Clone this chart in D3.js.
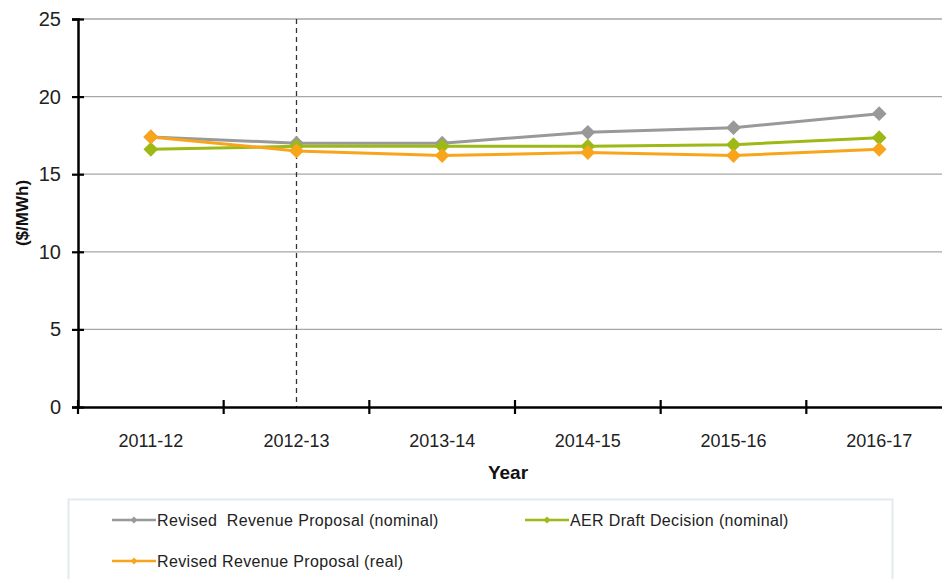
<!DOCTYPE html>
<html>
<head>
<meta charset="utf-8">
<script src="https://cdn.jsdelivr.net/npm/d3@7"></script>
<style>
  html, body { margin: 0; padding: 0; background: #fff; }
  svg { display: block; font-family: "Liberation Sans", Arial, sans-serif; }
</style>
</head>
<body>
<svg id="chart" width="942" height="579"></svg>
<script>
// Network charges per MWh by regulatory year
const years = ["2011-12", "2012-13", "2013-14", "2014-15", "2015-16", "2016-17"];
const revisedNominal = [17.4, 17.0, 17.0, 17.7, 18.0, 18.9];
const aerDraftNominal = [16.6, 16.8, 16.8, 16.8, 16.9, 17.35];
const revisedReal = [17.4, 16.5, 16.2, 16.4, 16.2, 16.6];
const yTicks = [0, 5, 10, 15, 20, 25];
const seriesNames = [
  "Revised  Revenue Proposal (nominal)",
  "AER Draft Decision (nominal)",
  "Revised Revenue Proposal (real)"
];
const seriesColors = ["#999999", "#9cb916", "#f9a51c"];
const dividerYear = "2012-13";

const series = [revisedNominal, aerDraftNominal, revisedReal].map((vals, i) => ({
  name: seriesNames[i],
  color: seriesColors[i],
  values: vals.map((v, j) => ({ year: years[j], value: v }))
}));

const svg = d3.select("#chart");
const plotLeft = 78, plotRight = 952, plotTop = 19, plotBottom = 407;

const x = d3.scaleBand().domain(years).range([plotLeft, plotRight]);
const y = d3.scaleLinear().domain([0, 25]).range([plotBottom, plotTop]);

// horizontal gridlines
svg.append("g")
  .selectAll("line")
  .data(yTicks.filter(t => t > 0))
  .join("line")
  .attr("x1", plotLeft).attr("x2", plotRight)
  .attr("y1", d => y(d)).attr("y2", d => y(d))
  .attr("stroke", "#a6a6a6").attr("stroke-width", 1.3);

// vertical dashed divider
svg.append("line")
  .attr("x1", x(dividerYear) + x.bandwidth() / 2)
  .attr("x2", x(dividerYear) + x.bandwidth() / 2)
  .attr("y1", plotTop).attr("y2", plotBottom)
  .attr("stroke", "#333").attr("stroke-width", 1.3)
  .attr("stroke-dasharray", "5,4");

// y axis
const yAxis = svg.append("g")
  .attr("transform", `translate(${plotLeft},0)`)
  .call(d3.axisLeft(y).tickValues(yTicks).tickSize(6).tickPadding(11));
yAxis.select(".domain").attr("stroke", "#000").attr("stroke-width", 2.5);
yAxis.selectAll(".tick line").clone().attr("x2", 6);
yAxis.selectAll(".tick line").attr("stroke", "#000").attr("stroke-width", 2.2);
yAxis.selectAll(".tick text")
  .attr("font-size", 20).attr("fill", "#222")
  .attr("font-family", "Liberation Sans, Arial, sans-serif");

// x axis
const xAxis = svg.append("g")
  .attr("transform", `translate(0,${plotBottom})`)
  .call(d3.axisBottom(x).tickSize(0).tickPadding(27));
xAxis.select(".domain").attr("stroke", "#000").attr("stroke-width", 2.5);
xAxis.selectAll(".tick text")
  .attr("font-size", 18).attr("fill", "#222")
  .attr("font-family", "Liberation Sans, Arial, sans-serif");
// band boundary ticks
xAxis.append("g")
  .selectAll("line")
  .data(years)
  .join("line")
  .attr("x1", d => x(d)).attr("x2", d => x(d))
  .attr("y1", -7).attr("y2", 7)
  .attr("stroke", "#000").attr("stroke-width", 2.2);

// axis titles
svg.append("text")
  .attr("transform", `translate(28,${(plotTop + plotBottom) / 2}) rotate(-90)`)
  .attr("text-anchor", "middle")
  .attr("font-size", 17).attr("font-weight", "bold").attr("fill", "#111")
  .text("($/MWh)");
svg.append("text")
  .attr("x", 508).attr("y", 479)
  .attr("text-anchor", "middle")
  .attr("font-size", 19).attr("font-weight", "bold").attr("fill", "#111")
  .text("Year");

// series lines and diamond markers
const line = d3.line()
  .x(d => x(d.year) + x.bandwidth() / 2)
  .y(d => y(d.value));
const diamond = d3.symbol().type(d3.symbolDiamond2).size(140);

series.forEach(s => {
  const g = svg.append("g");
  g.append("path")
    .datum(s.values)
    .attr("d", line)
    .attr("fill", "none")
    .attr("stroke", s.color)
    .attr("stroke-width", 3);
  g.selectAll("path.m")
    .data(s.values)
    .join("path")
    .attr("class", "m")
    .attr("d", diamond)
    .attr("transform", d => `translate(${x(d.year) + x.bandwidth() / 2},${y(d.value)})`)
    .attr("fill", s.color);
});

// legend
const legend = svg.append("g");
legend.append("rect")
  .attr("x", 68.5).attr("y", 499.5)
  .attr("width", 824).attr("height", 100)
  .attr("fill", "#fff").attr("stroke", "#e3eaee").attr("stroke-width", 2);

const legendPos = [[112, 520], [525, 520], [112, 561]];
const legendSymbol = d3.symbol().type(d3.symbolDiamond2).size(30);
series.forEach((s, i) => {
  const [lx, ly] = legendPos[i];
  const item = legend.append("g").attr("transform", `translate(${lx},${ly})`);
  item.append("line")
    .attr("x1", 0).attr("x2", 44)
    .attr("stroke", s.color).attr("stroke-width", 2.5);
  item.append("path")
    .attr("d", legendSymbol)
    .attr("transform", "translate(22,0)")
    .attr("fill", s.color);
  item.append("text")
    .attr("x", 45).attr("y", 5.5)
    .attr("font-size", 16).attr("fill", "#222")
    .attr("letter-spacing", 0.35)
    .attr("font-family", "Liberation Sans, Arial, sans-serif")
    .style("white-space", "pre")
    .text(s.name);
});
</script>
</body>
</html>
